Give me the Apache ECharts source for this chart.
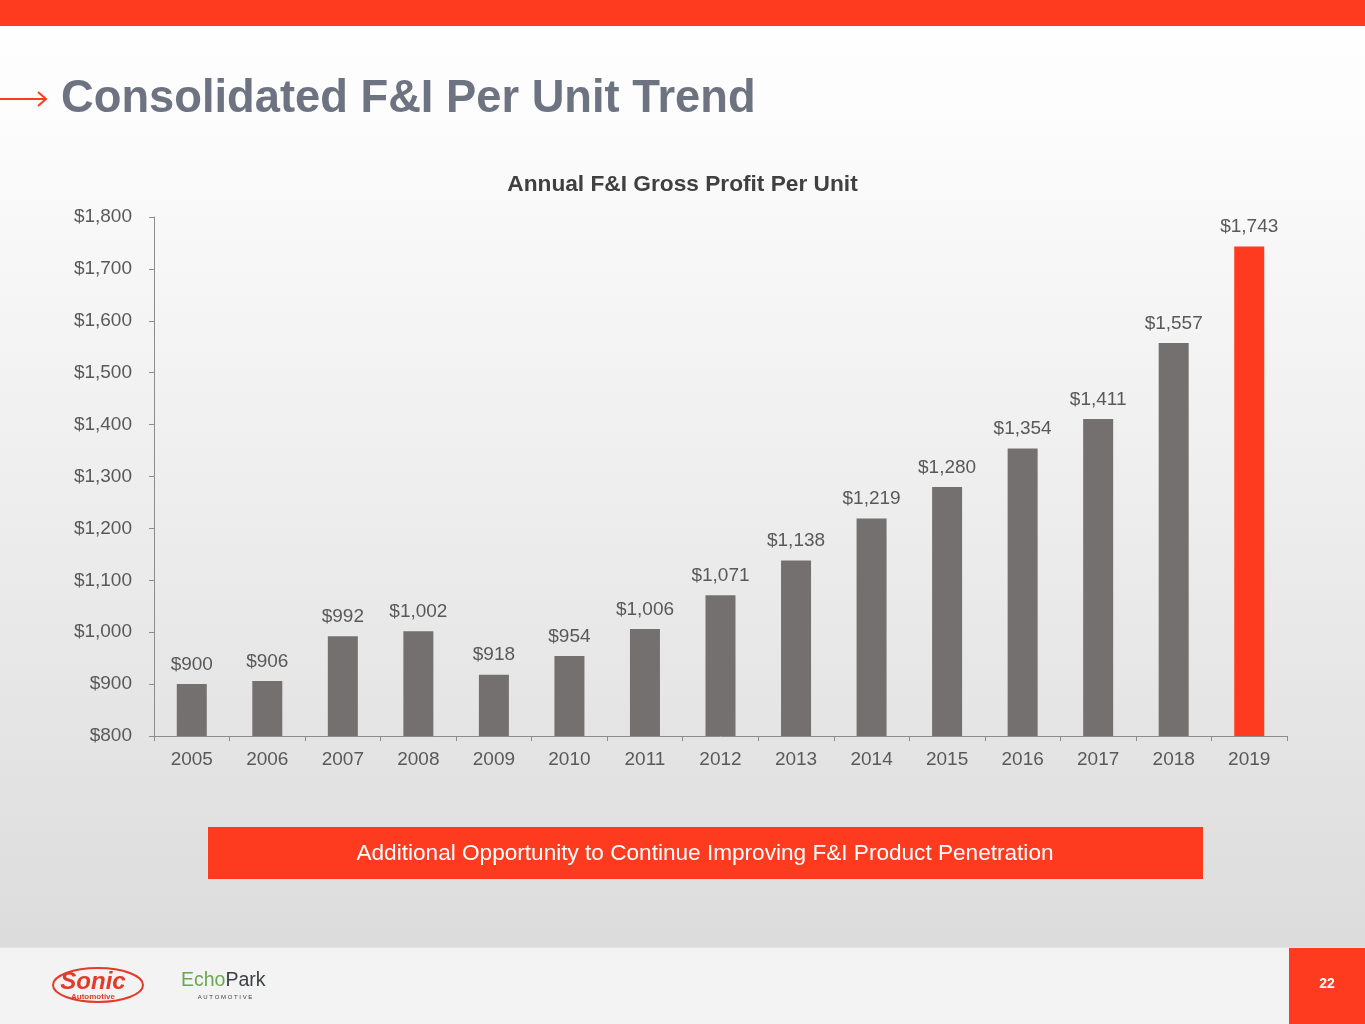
<!DOCTYPE html>
<html>
<head>
<meta charset="utf-8">
<title>Consolidated F&amp;I Per Unit Trend</title>
<script src="https://cdn.jsdelivr.net/npm/echarts@6/dist/echarts.min.js"></script>
<style>
    html, body { margin: 0; padding: 0; }
    #main { width: 1365px; height: 1024px; }
</style>
</head>
<body>
<div id="main"></div>
<script>
// chart data
var years = ['2005', '2006', '2007', '2008', '2009', '2010', '2011', '2012',
    '2013', '2014', '2015', '2016', '2017', '2018', '2019'];
var perUnit = [900, 906, 992, 1002, 918, 954, 1006, 1071, 1138, 1219, 1280, 1354, 1411, 1557, 1743];
var highlightYear = '2019';

var RED = '#ff3b1f';
var GREY_BAR = '#757070';
var TEXT = '#595959';
var FONT = 'Liberation Sans, Arial, sans-serif';

function dollars(v) {
    return '$' + Number(v).toLocaleString('en-US');
}

var chart = echarts.init(document.getElementById('main'));

var option = {
    animation: false,
    backgroundColor: {
        type: 'linear', x: 0, y: 0, x2: 0, y2: 1,
        colorStops: [
            { offset: 0, color: '#ffffff' },
            { offset: 0.12, color: '#fcfcfc' },
            { offset: 0.925, color: '#dcdcdc' },
            { offset: 0.926, color: '#f3f3f3' },
            { offset: 1, color: '#f3f3f3' }
        ]
    },
    title: {
        text: 'Annual F&I Gross Profit Per Unit',
        left: 'center',
        top: 168,
        textStyle: {
            fontFamily: FONT,
            fontSize: 22.7,
            fontWeight: 'bold',
            color: '#404040'
        }
    },
    grid: {
        left: 154,
        right: 78,
        top: 217,
        bottom: 288
    },
    xAxis: {
        type: 'category',
        data: years,
        axisLine: { lineStyle: { color: '#8c8c8c', width: 1 } },
        axisTick: { show: true, length: 5, lineStyle: { color: '#8c8c8c' } },
        axisLabel: {
            margin: 14,
            fontFamily: FONT,
            fontSize: 19,
            color: TEXT
        }
    },
    yAxis: {
        type: 'value',
        min: 800,
        max: 1800,
        interval: 100,
        axisLine: { show: true, lineStyle: { color: '#8c8c8c', width: 1 } },
        axisTick: { show: true, length: 5, lineStyle: { color: '#8c8c8c' } },
        splitLine: { show: false },
        axisLabel: {
            margin: 22,
            fontFamily: FONT,
            fontSize: 19,
            color: TEXT,
            padding: [3, 0, 0, 0],
            formatter: dollars
        }
    },
    series: [{
        type: 'bar',
        data: perUnit,
        barWidth: 30,
        itemStyle: {
            color: function (p) {
                return years[p.dataIndex] === highlightYear ? RED : GREY_BAR;
            }
        },
        label: {
            show: true,
            position: 'top',
            distance: 10,
            fontFamily: FONT,
            fontSize: 19,
            color: TEXT,
            formatter: function (p) { return dollars(p.value); }
        }
    }],
    graphic: [
        // top bar
        { type: 'rect', shape: { x: 0, y: 0, width: 1365, height: 26 }, style: { fill: RED } },
        // arrow
        { type: 'line', shape: { x1: 0, y1: 99, x2: 46, y2: 99 }, style: { stroke: RED, lineWidth: 2 } },
        { type: 'polyline', shape: { points: [[38, 92], [46, 99], [38, 106]] }, style: { stroke: RED, lineWidth: 2, fill: null } },
        {
            type: 'text', left: 61, top: 77,
            style: {
                text: 'Consolidated F&I Per Unit Trend',
                fontFamily: FONT,
                fontSize: 45.3, fontWeight: 'bold', fill: '#6d7380'
            }
        },
        // banner
        { type: 'rect', shape: { x: 208, y: 827, width: 995, height: 52 }, style: { fill: RED } },
        {
            type: 'text', x: 705, y: 854,
            style: {
                text: 'Additional Opportunity to Continue Improving F&I Product Penetration',
                align: 'center', verticalAlign: 'middle',
                fontFamily: FONT,
                fontSize: 22.6, fill: '#ffffff'
            }
        },
        // page number
        { type: 'rect', shape: { x: 1289, y: 948, width: 76, height: 76 }, style: { fill: RED } },
        {
            type: 'text', x: 1327, y: 984,
            style: {
                text: '22', align: 'center', verticalAlign: 'middle',
                fontFamily: FONT,
                fontSize: 14, fontWeight: 'bold', fill: '#ffffff'
            }
        },
        // Sonic logo
        { type: 'ellipse', shape: { cx: 98, cy: 985, rx: 45, ry: 17 }, style: { stroke: '#e23b2a', lineWidth: 2, fill: null } },
        {
            type: 'text', x: 93, y: 982,
            style: {
                text: 'Sonic', align: 'center', verticalAlign: 'middle',
                fontFamily: FONT,
                fontSize: 24, fontWeight: 900, fontStyle: 'italic', fill: '#e23b2a'
            }
        },
        {
            type: 'text', x: 93, y: 997,
            style: {
                text: 'Automotive', align: 'center', verticalAlign: 'middle',
                fontFamily: FONT,
                fontSize: 8, fontWeight: 'bold', fill: '#e23b2a'
            }
        },
        // EchoPark logo
        {
            type: 'text', x: 181, y: 981,
            style: {
                text: '{g|Echo}{d|Park}', verticalAlign: 'middle',
                rich: {
                    g: { fontFamily: FONT, fontSize: 19.5, fill: '#6aa84f' },
                    d: { fontFamily: FONT, fontSize: 19.5, fill: '#3c3f45' }
                }
            }
        },
        {
            type: 'text', x: 225, y: 997,
            style: {
                text: 'A U T O M O T I V E', align: 'center', verticalAlign: 'middle',
                fontFamily: FONT,
                fontSize: 6, fill: '#3c3f45'
            }
        }
    ]
};

chart.setOption(option);
</script>
</body>
</html>
